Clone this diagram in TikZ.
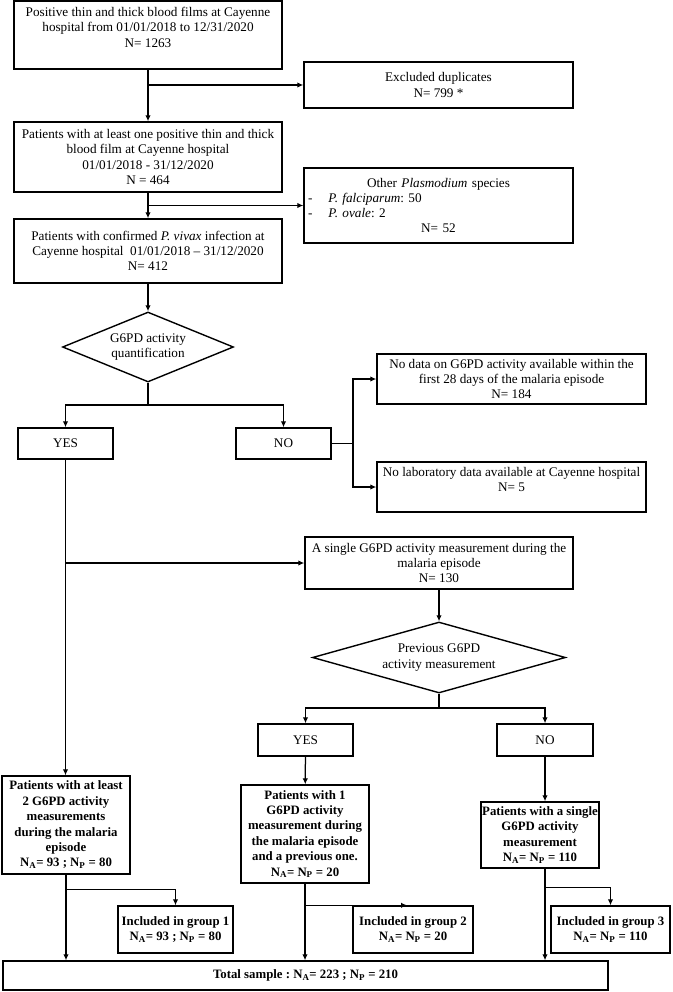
\documentclass[tikz,border=0pt]{standalone}
\usepackage{fontspec}
\setmainfont{Liberation Serif}
\usepackage{tikz}
\usetikzlibrary{arrows.meta,shapes.geometric}
\tikzset{
  box/.style={rectangle, draw, line width=1.4pt, align=center, inner xsep=1pt, inner ysep=0pt,
              font=\fontsize{13.2}{15.3}\selectfont, minimum width=#1},
  boxb/.style={box=#1, font=\bfseries\fontsize{12.8}{15.4}\selectfont},
  choix/.style={diamond, draw, line width=1.4pt, align=center, inner sep=0pt,
                font=\fontsize{13.2}{15.3}\selectfont},
  arr/.style={-{Latex[length=6pt,width=5.5pt]}, line width=1.25pt},
  lien/.style={line width=1.25pt},
}
\begin{document}
\begin{tikzpicture}[x=1pt,y=-1pt]
  \useasboundingbox (0,0) rectangle (672,992);
  % first column
  \node[box=268pt, minimum height=68pt] (films) at (148,35)
    {Positive thin and thick blood films at Cayenne\\hospital from 01/01/2018 to 12/31/2020\\N= 1263\\\mbox{}};
  \node[box=269pt, minimum height=46pt] (dupl) at (438.5,85)
    {Excluded duplicates\\N= 799 *};
  \node[box=268pt, minimum height=70pt] (pat) at (148,157)
    {Patients with at least one positive thin and thick\\blood film at Cayenne hospital\\01/01/2018 - 31/12/2020\\N = 464};
  \node[box=269pt, minimum height=75pt, text width=265pt] (autres) at (438.5,205.5)
    {Other \textit{Plasmodium} species\\
     \makebox[265pt][l]{\hspace{2pt}-\hspace{16pt}\textit{P. falciparum}:\ 50}\\
     \makebox[265pt][l]{\hspace{2pt}-\hspace{16pt}\textit{P. ovale}:\ 2}\\
     N= 52};
  \node[box=268pt, minimum height=64pt] (vivax) at (148,251)
    {Patients with confirmed \textit{P. vivax} infection at\\Cayenne hospital~ 01/01/2018 – 31/12/2020\\N= 412};
  \node[choix, minimum width=171pt, minimum height=70pt, aspect=2.4] (quant) at (148,347)
    {G6PD activity\\quantification};
  \node[box=95pt, minimum height=31pt] (oui) at (65.5,443.5) {YES};
  \node[box=95pt, minimum height=31pt] (non) at (283.5,443.5) {NO};
  \node[box=269pt, minimum height=50pt] (nodata) at (511.5,379)
    {No data on G6PD activity available within the\\first 28 days of the malaria episode\\N= 184};
  \node[box=269pt, minimum height=50pt] (nolab) at (511.5,487)
    {No laboratory data available at Cayenne hospital\\N= 5\\\mbox{}};
  \node[box=268pt, minimum height=52pt] (single) at (439,563)
    {A single G6PD activity measurement during the\\malaria episode\\N= 130};
  \node[choix, minimum width=253pt, minimum height=71pt, aspect=3.5] (prev) at (439,657.5)
    {Previous G6PD\\activity measurement};
  \node[box=95pt, minimum height=32pt] (oui2) at (305.5,740) {YES};
  \node[box=96pt, minimum height=32pt] (non2) at (545,740) {NO};
  % groups
  \node[boxb=128pt, minimum height=98pt] (deux) at (66,825)
    {Patients with at least\\2 G6PD activity\\measurements\\during the malaria\\episode\\N\textsubscript{A}= 93 ; N\textsubscript{P} = 80};
  \node[boxb=128pt, minimum height=98pt] (unprev) at (305,834)
    {Patients with 1\\G6PD activity\\measurement during\\the malaria episode\\and a previous one.\\N\textsubscript{A}= N\textsubscript{P} = 20};
  \node[boxb=118pt, minimum height=66pt] (seul) at (540,835)
    {Patients with a single\\G6PD activity\\measurement\\N\textsubscript{A}= N\textsubscript{P} = 110};
  \node[boxb=115pt, minimum height=47pt] (g1) at (175.5,929.5)
    {Included in group 1\\N\textsubscript{A}= 93 ; N\textsubscript{P} = 80};
  \node[boxb=120pt, minimum height=47pt] (g2) at (413,929.5)
    {Included in group 2\\N\textsubscript{A}= N\textsubscript{P} = 20};
  \node[boxb=119pt, minimum height=47pt] (g3) at (610.5,929.5)
    {Included in group 3\\N\textsubscript{A}= N\textsubscript{P} = 110};
  \node[boxb=605pt, minimum height=29pt] (total) at (305.5,975.5)
    {Total sample :\ N\textsubscript{A}= 223 ; N\textsubscript{P} = 210};
  % connectors
  \coordinate (k1) at (148,405);
  \coordinate (k2) at (353,443.5);
  \coordinate (k3) at (439,708);
  \coordinate (g2tip) at ([xshift=-6pt]g2.north);
  \draw[arr] (films) -- (pat);
  \draw[arr] (films.south |- dupl.west) -- (dupl.west);
  \draw[arr] (pat) -- (vivax);
  \draw[arr] (pat.south |- autres.west) -- (autres.west);
  \draw[arr] (vivax) -- (quant);
  \draw[lien] (quant.south) -- (k1);
  \draw[arr] (k1) -| (oui.north);
  \draw[arr] (k1) -| (non.north);
  \draw[lien] (non.east) -- (k2);
  \draw[arr] (k2) |- (nodata.west);
  \draw[arr] (k2) |- (nolab.west);
  \draw[arr] (oui.south) -- (oui.south |- deux.north);
  \draw[arr] (oui.south |- single.west) -- (single.west);
  \draw[arr] (single) -- (prev);
  \draw[lien] (prev.south) -- (k3);
  \draw[arr] (k3) -| (oui2.north);
  \draw[arr] (k3) -| (non2.north);
  \draw[arr] (oui2) -- (unprev);
  \draw[arr] (non2.south) -- (non2.south |- seul.north);
  \draw[arr] (deux.south) -- (deux.south |- total.north);
  \draw[arr] (deux.south) ++(0,15) -| (g1.north);
  \draw[arr] (unprev.south) -- (unprev.south |- total.north);
  \draw[arr] (unprev.south |- g2tip) -- (g2tip);
  \draw[arr] (non2.south |- seul.south) -- (non2.south |- total.north);
  \draw[arr] (non2.south |- seul.south) ++(0,19) -| (g3.north);
\end{tikzpicture}
\end{document}
